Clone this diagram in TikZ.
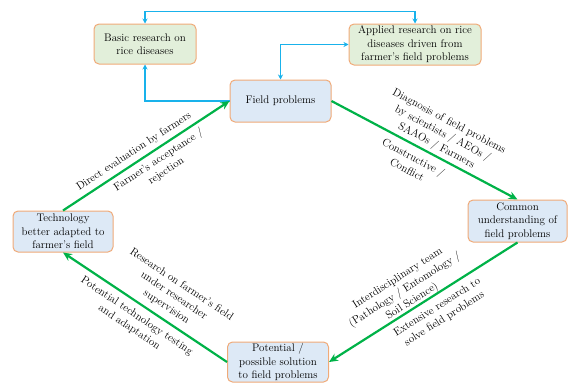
\documentclass[tikz,border=0pt]{standalone}
\usetikzlibrary{arrows.meta}
\definecolor{boxblue}{RGB}{221,233,246}
\definecolor{boxgreen}{RGB}{226,239,218}
\definecolor{boxline}{RGB}{240,170,120}
\definecolor{arrgreen}{RGB}{0,178,72}
\definecolor{arrblue}{RGB}{25,178,235}
\begin{document}
\begin{tikzpicture}[x=1pt,y=-1pt,
  every node/.style={font=\fontsize{11}{13.5}\selectfont},
  boxb/.style={draw=boxline, line width=1pt, fill=boxblue, rounded corners=5pt, align=center, inner sep=1pt},
  boxg/.style={boxb, fill=boxgreen},
  garrow/.style={draw=arrgreen, line width=2.2pt, -{Stealth[length=9pt,width=8pt]}},
  barrow/.style={draw=arrblue, line width=1.2pt},
  btip/.style={-{Stealth[length=5pt,width=5pt]}},
  bboth/.style={{Stealth[length=5pt,width=5pt]}-{Stealth[length=5pt,width=5pt]}},
  lbl/.style={sloped, align=center, inner sep=1pt, font=\fontsize{11}{13.5}\selectfont}]
\useasboundingbox (0,0) rectangle (569,383);
\node[boxg, minimum width=102pt, minimum height=40pt] (basic) at (145,44) {Basic research on\\rice diseases};
\node[boxg, minimum width=132pt, minimum height=41pt] (applied) at (415,44.5) {Applied research on rice\\diseases driven from\\farmer's field problems};
\node[boxb, minimum width=101pt, minimum height=42pt] (field) at (280.5,101) {Field problems};
\node[boxb, minimum width=99pt, minimum height=42pt] (common) at (517.5,221) {Common\\understanding of\\field problems};
\node[boxb, minimum width=100pt, minimum height=41pt] (tech) at (63,231.5) {Technology\\better adapted to\\farmer's field};
\node[boxb, minimum width=101pt, minimum height=40pt] (potential) at (278,362) {Potential /\\possible solution\\to field problems};
% blue connectors
\draw[barrow, bboth] (basic.north) -- ++(0,-12) -| (applied.north);
\draw[barrow, btip] (field.west) -| (basic.south);
\draw[barrow, bboth] (field.north) |- (applied.west);
% green cycle
\draw[garrow] (tech.north) -- (field.west)
  node[lbl, pos=0.46, above=3pt] {Direct evaluation by farmers}
  node[lbl, pos=0.54, below=3pt] {Farmer's acceptance /\\rejection};
\draw[garrow] (field.east) -- (common.north)
  node[lbl, pos=0.54, above=2pt] {Diagnosis of field problems\\by scientists / AEOs /\\SAAOs / Farmers}
  node[lbl, pos=0.47, below=5pt] {Constructive /\\Conflict};
\draw[garrow] (common.south) -- (potential.east)
  node[lbl, pos=0.54, above=-1pt] {Interdisciplinary team\\(Pathology / Entomology /\\Soil Science)}
  node[lbl, pos=0.46, below=5pt] {Extensive research to\\solve field problems};
\draw[garrow] (potential.west) -- (tech.south)
  node[lbl, pos=0.41, above=5pt] {Research on farmer's field\\under researcher\\supervision}
  node[lbl, pos=0.51, below=5pt] {Potential technology testing\\and adaptation};
\end{tikzpicture}
\end{document}
